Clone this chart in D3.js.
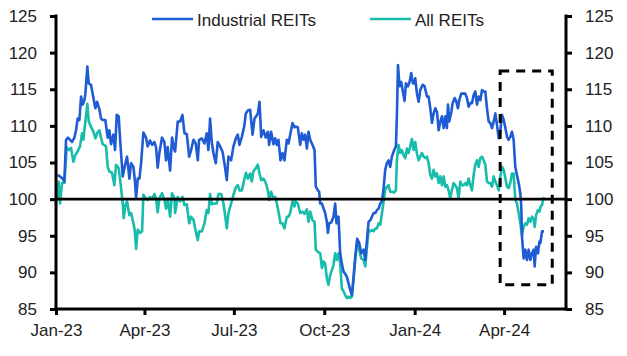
<!DOCTYPE html>
<html><head><meta charset="utf-8">
<script src="https://cdn.jsdelivr.net/npm/d3@7"></script>
<style>body{margin:0;background:#fff}svg{display:block}text{font-family:"Liberation Sans",Arial,sans-serif;fill:#222}</style>
</head><body><svg id="c" width="627" height="356"></svg>
<script>
// Days since 2023-01-01 and index values
const industrialDays = [1.7,4,6.8,8.5,10.2,12.2,14.3,16.3,18.7,20.4,22,23.8,25.5,27.2,28.9,29.9,31.9,33.3,35.6,37.3,40,41.8,44.1,45.8,47.5,50.2,52.6,54.3,56,58.4,60.1,61.8,63.8,65.5,67.9,70.3,72.3,74.7,76.4,78.8,80.4,81.5,83.2,84.9,86.6,88.9,91.6,93.3,95.7,97.8,100.1,101.8,103.5,105.2,107.9,110.3,112,113.7,116.1,118.1,120.5,
121.2,123.9,126.3,128.7,130.7,133.1,135.5,137.5,139.9,142.2,144.3,145.6,148.4,151.1,153.4,155.1,156.8,158.5,160.2,162.6,164.6,167,169.4,171.4,173.8,175.5,178.2,180.6,183,185,186.7,189.1,191.5,193.2,195.2,197.6,200,202,203.7,205.4,207.1,208.8,211.2,213.5,215.6,216.9,218.9,221.3,223,224.7,226.4,228.5,230.5,232.5,234.9,236.6,238.3,240.7,242.7,
243.4,246.1,248.5,250.2,251.9,253.6,255.3,257,258.7,261.1,263.1,264.4,266.5,267.8,268.9,270.6,272.3,273.9,275.6,276.7,278,280.1,282.4,284.1,285.5,287.5,289.2,290.9,292.6,294.3,296,297.7,299.4,301.1,302.8,304.5,306.5,308.6,310.6,313,314.7,316.4,318.1,319.8,321.5,323.2,324.9,326.6,328.3,330,331.7,333.4,335,336.7,338.4,340.1,341.8,344.2,345.9,346.9,348,349.6,351.3,352.7,354.7,356.1,358.1,359.8,361.5,363.2,364.9,
365.6,367.3,369,370.7,373.1,375.1,377.5,379.2,380.9,382.6,384.3,386,387.7,389.4,391.1,392.8,394.5,396.2,397.8,398.9,400.2,402.3,403.6,405.7,407,409,410.4,412.4,414.8,416.5,418.2,419.9,421.6,423.3,425,426.7,428.4,430.1,431.8,433.5,435.2,436.9,438.6,440.3,442,443.7,445.4,447.1,448.8,450.5,452.2,453.9,455.6,457.3,459,460.6,462.3,464,465.7,467.4,469.1,470.8,472.5,473.5,474.2,475.9,477.6,479.3,481,482.7,484.4,486.1,487.1,488.5,490.5,491.9,492.9,494.6,496.6];
const industrialValues = [103.3,103.1,102.8,102.4,108.1,108.4,108.1,107.8,108.4,109.4,111.0,110.8,114.0,112.9,113.5,114.4,118.1,115.8,115.6,114.4,112.4,113.3,112.3,111.0,110.8,110.8,108.4,109.4,107.5,108.8,106.7,111.5,111.3,107.6,103.1,104.7,105.8,102.8,104.9,104.4,102.4,100.1,102.8,102.8,104.9,109.1,108.4,107.2,108.0,107.4,107.8,107.1,104.3,106.3,108.4,107.8,105.3,107.1,103.9,108.4,106.7,
106.5,110.6,110.6,111.5,109.0,108.9,105.8,106.7,108.1,107.6,105.3,108.1,108.3,107.6,109.0,106.7,111.0,107.8,106.3,104.9,107.8,107.2,106.5,104.9,102.6,105.8,105.3,107.2,108.3,108.8,107.4,108.5,109.9,111.7,112.1,112.2,108.8,111.0,111.3,111.7,113.3,108.5,109.4,108.4,109.2,107.4,109.2,107.5,108.3,107.4,108.1,105.3,106.3,105.3,108.1,107.6,108.8,110.4,109.8,
109.9,109.8,107.4,109.0,108.1,108.8,106.9,109.2,108.1,107.4,106.7,101.7,101.2,101.0,99.4,99.4,98.7,98.1,96.9,95.4,96.7,96.8,97.6,99.4,96.7,97.6,92.6,91.2,90.1,89.8,89.4,88.5,87.6,86.9,89.4,92.1,94.6,94.0,92.6,93.1,91.7,94.4,96.9,97.1,97.6,98.1,98.1,98.5,98.7,99.4,99.7,101.5,104.0,104.9,105.3,104.4,105.8,106.7,107.2,111.3,118.3,115.4,116.0,114.9,113.4,115.8,115.4,116.0,117.2,115.8,115.8,
116.5,114.4,113.3,114.9,115.6,115.4,114.0,114.0,112.4,110.4,111.7,112.4,111.9,109.4,110.6,111.3,109.7,111.3,109.7,112.9,110.6,111.9,113.1,113.8,113.5,112.4,113.5,114.4,114.4,114.4,113.8,112.6,113.1,113.1,114.2,114.7,112.9,114.0,113.5,114.9,114.7,114.7,112.4,110.6,110.4,109.7,110.6,111.7,110.1,108.3,109.4,111.5,110.8,109.7,108.5,108.1,108.5,109.2,108.1,104.4,103.3,102.2,100.8,99.0,94.9,91.9,93.1,91.7,93.1,91.7,92.6,93.1,90.8,93.5,92.6,94.2,94.0,95.6,95.6];

const allDays = [1,2.7,4.1,6.1,8.5,10.9,12.9,15.3,17.7,19.7,22,24.4,26.5,27.8,29.9,31.9,33.3,35.6,38,40.1,41.8,44.1,45.8,47.5,49.2,50.9,52.6,54.3,57,59.4,61.1,63.8,65.5,67.9,68.9,70.6,72.3,74.7,76.4,78.8,80.1,81.5,83.2,85.5,87.6,88.9,91.6,93.3,95.7,97.8,100.1,101.8,103.5,105.2,107.9,110.3,112,113.7,116.1,118.1,120.5,
121.2,123.9,126.3,128.7,130.7,133.1,135.5,137.5,139.9,142.2,144.3,145.6,148.4,151.1,153.4,155.1,156.8,158.5,161.3,163.6,165.3,168.1,170.4,172.1,173.8,175.5,178.2,180.6,183,185,186.7,189.1,191.5,193.2,195.2,197.6,199.3,200.9,203.3,205.4,207.1,208.8,211.2,213.5,215.6,216.9,218.9,221.3,223,224.7,226.4,228.5,230.5,232.5,234.9,236.6,238.3,240.7,242.7,
243.4,246.1,248.5,250.9,252.9,255.3,257,258.7,261.1,263.1,264.4,266.5,268.9,270.6,272.3,273.9,275.6,277.3,279,280.7,282.4,284.1,285.8,287.5,289.2,290.9,292.6,294.3,296,297.7,299.4,301.1,302.8,304.5,306.5,308.6,310.6,313,314.7,316.4,318.1,319.8,321.5,323.2,324.9,326.6,328.3,330,331.7,333.4,335,336.7,338.4,340.1,341.8,344.2,345.9,346.9,348.6,350.3,352,353.7,355.4,357.1,358.8,360.5,362.2,363.9,
365.6,367.3,369,370.7,372.4,374.1,375.8,377.5,379.2,380.9,382.6,384.3,386,387.7,389.4,391.1,392.8,394.5,396.2,397.8,399.5,401.2,402.9,404.6,406.3,408,409.7,411.4,413.1,414.8,416.5,418.2,419.9,421.6,423.3,425,426.7,428.4,430.1,431.8,433.5,435.2,436.9,438.6,440.3,442,443.7,445.4,447.1,448.8,450.5,452.2,453.9,455.6,457.3,459,460.6,462.3,464,465.7,467.4,469.1,470.8,472.5,474.2,475.9,477.6,479.3,481,482.7,484.4,486.1,487.1,488.5,490.5,491.9,493.3,494.6,496.3];
const allValues = [99.9,102.4,99.4,102.2,102.2,107.1,106.7,107.0,105.1,106.0,106.5,107.2,109.0,108.1,110.6,113.0,110.6,109.9,109.2,108.3,109.0,109.4,108.4,107.5,107.4,107.2,104.4,103.8,103.6,101.9,104.7,104.2,102.4,99.4,97.4,99.2,99.7,97.8,98.1,96.7,95.8,93.2,95.8,95.4,95.6,100.6,100.1,99.9,100.3,100.0,100.7,100.1,98.2,100.1,100.8,99.9,98.7,100.1,97.6,100.8,100.1,
98.1,100.3,99.7,100.3,99.2,99.3,96.7,97.6,97.2,95.6,94.4,95.6,95.6,96.7,98.5,98.1,100.7,99.3,99.4,99.4,100.7,100.7,99.4,97.8,96.0,98.1,99.4,100.6,101.6,101.9,101.2,101.2,102.6,103.6,102.8,103.5,102.4,103.8,104.2,104.7,103.5,102.6,102.8,102.2,101.2,99.9,101.0,100.1,100.3,99.4,98.3,96.7,96.7,96.0,97.6,97.6,98.1,99.7,99.0,
99.7,99.4,98.1,98.3,98.0,98.6,96.9,98.3,97.1,96.9,93.1,92.8,92.6,90.6,91.5,91.2,89.2,88.3,89.6,90.3,91.0,92.6,91.7,92.6,91.2,87.8,87.4,86.9,86.5,86.7,86.5,86.7,89.0,91.7,94.1,93.1,91.9,91.7,90.8,93.3,95.8,95.6,95.8,95.6,96.0,96.0,96.7,96.5,98.1,99.7,101.2,101.7,101.9,101.0,101.0,100.9,101.2,105.3,107.4,106.3,106.7,106.0,105.6,106.9,106.3,107.2,108.2,106.7,
107.8,106.2,105.3,105.8,106.3,105.8,105.6,105.8,104.9,103.3,102.8,104.0,103.1,103.5,102.2,103.1,101.9,103.1,101.7,101.9,101.2,100.1,101.2,102.2,101.9,101.5,100.1,102.4,101.9,101.9,102.2,101.9,102.8,101.9,101.2,103.3,104.7,105.3,104.4,105.6,105.8,105.3,104.7,102.4,102.2,102.2,101.7,103.1,102.4,101.9,101.2,103.1,104.4,104.0,102.8,101.7,101.5,102.2,103.5,103.5,99.9,99.4,98.1,96.7,95.1,96.2,96.7,96.5,97.4,96.9,97.6,97.2,96.2,97.8,98.5,98.3,99.0,99.2,100.3];

const yTicks = [85,90,95,100,105,110,115,120,125];
const xTickLabels = ["Jan-23","Apr-23","Jul-23","Oct-23","Jan-24","Apr-24"];
const xTickDates = ["2023-01-01","2023-04-01","2023-07-01","2023-10-01","2024-01-01","2024-04-01"];
const seriesNames = ["Industrial REITs","All REITs"];
const highlightBox = {start:"2024-03-28", end:"2024-05-20", low:88.3, high:117.5};

const parse = d3.utcParse("%Y-%m-%d");
const base = parse("2023-01-01");
const toDate = d => new Date(base.getTime() + d*864e5);

const svg = d3.select("#c");
const L = 56, R = 566, T = 16, B = 309;
const x = d3.scaleUtc().domain([base, parse("2024-06-03")]).range([L, R]);
const y = d3.scaleLinear().domain([85,125]).range([B, T]);

const blue = "#1f5bd3", teal = "#17bcaa";
const ind = industrialDays.map((d,i)=>({date:toDate(d), v:industrialValues[i]}));
const all = allDays.map((d,i)=>({date:toDate(d), v:allValues[i]}));
const line = d3.line().x(d=>x(d.date)).y(d=>y(d.v));

svg.append("path").datum(all).attr("d", line).attr("fill","none").attr("stroke",teal).attr("stroke-width",2.6).attr("stroke-linejoin","round");
svg.append("path").datum(ind).attr("d", line).attr("fill","none").attr("stroke",blue).attr("stroke-width",2.6).attr("stroke-linejoin","round");

// 100 line
svg.append("line").attr("x1",L).attr("x2",R).attr("y1",y(100)).attr("y2",y(100)).attr("stroke","#000").attr("stroke-width",2.6);

// dashed highlight box
svg.append("rect")
  .attr("x", x(parse(highlightBox.start))).attr("y", y(highlightBox.high))
  .attr("width", x(parse(highlightBox.end)) - x(parse(highlightBox.start)))
  .attr("height", y(highlightBox.low) - y(highlightBox.high))
  .attr("fill","none").attr("stroke","#000").attr("stroke-width",3).attr("stroke-dasharray","9,7");

// axes
const fs = "17px";
const left = svg.append("g").attr("transform",`translate(${L},0)`)
  .call(d3.axisLeft(y).tickValues(yTicks).tickSize(6).tickPadding(13).tickSizeOuter(0));
const right = svg.append("g").attr("transform",`translate(${R},0)`)
  .call(d3.axisRight(y).tickValues(yTicks).tickSize(6).tickPadding(13).tickSizeOuter(0));
const bottom = svg.append("g").attr("transform",`translate(0,${B})`)
  .call(d3.axisBottom(x).tickValues(xTickDates.map(parse)).tickFormat((d,i)=>xTickLabels[i]).tickSize(6).tickPadding(9).tickSizeOuter(0));
[left,right,bottom].forEach(g=>{
  g.select(".domain").attr("stroke","#000").attr("stroke-width",3);
  g.selectAll(".tick line").attr("stroke","#000").attr("stroke-width",3);
  g.selectAll(".tick text").attr("font-size",fs).attr("font-family","Liberation Sans, Arial, sans-serif").attr("fill","#222");
});
left.select(".domain").attr("d",`M0,${T-1.5}V${B+1.5}`);
right.select(".domain").attr("d",`M0,${T-1.5}V${B+1.5}`);
bottom.select(".domain").attr("d",`M${L-1.5},0H${R+1.5}`);

// legend
const leg = [{name:seriesNames[0], c:blue, x:152}, {name:seriesNames[1], c:teal, x:370}];
leg.forEach(l=>{
  svg.append("line").attr("x1",l.x).attr("x2",l.x+41).attr("y1",19).attr("y2",19).attr("stroke",l.c).attr("stroke-width",2.6);
  svg.append("text").attr("x",l.x+45).attr("y",25.5).attr("font-size",fs).text(l.name);
});
</script></body></html>
